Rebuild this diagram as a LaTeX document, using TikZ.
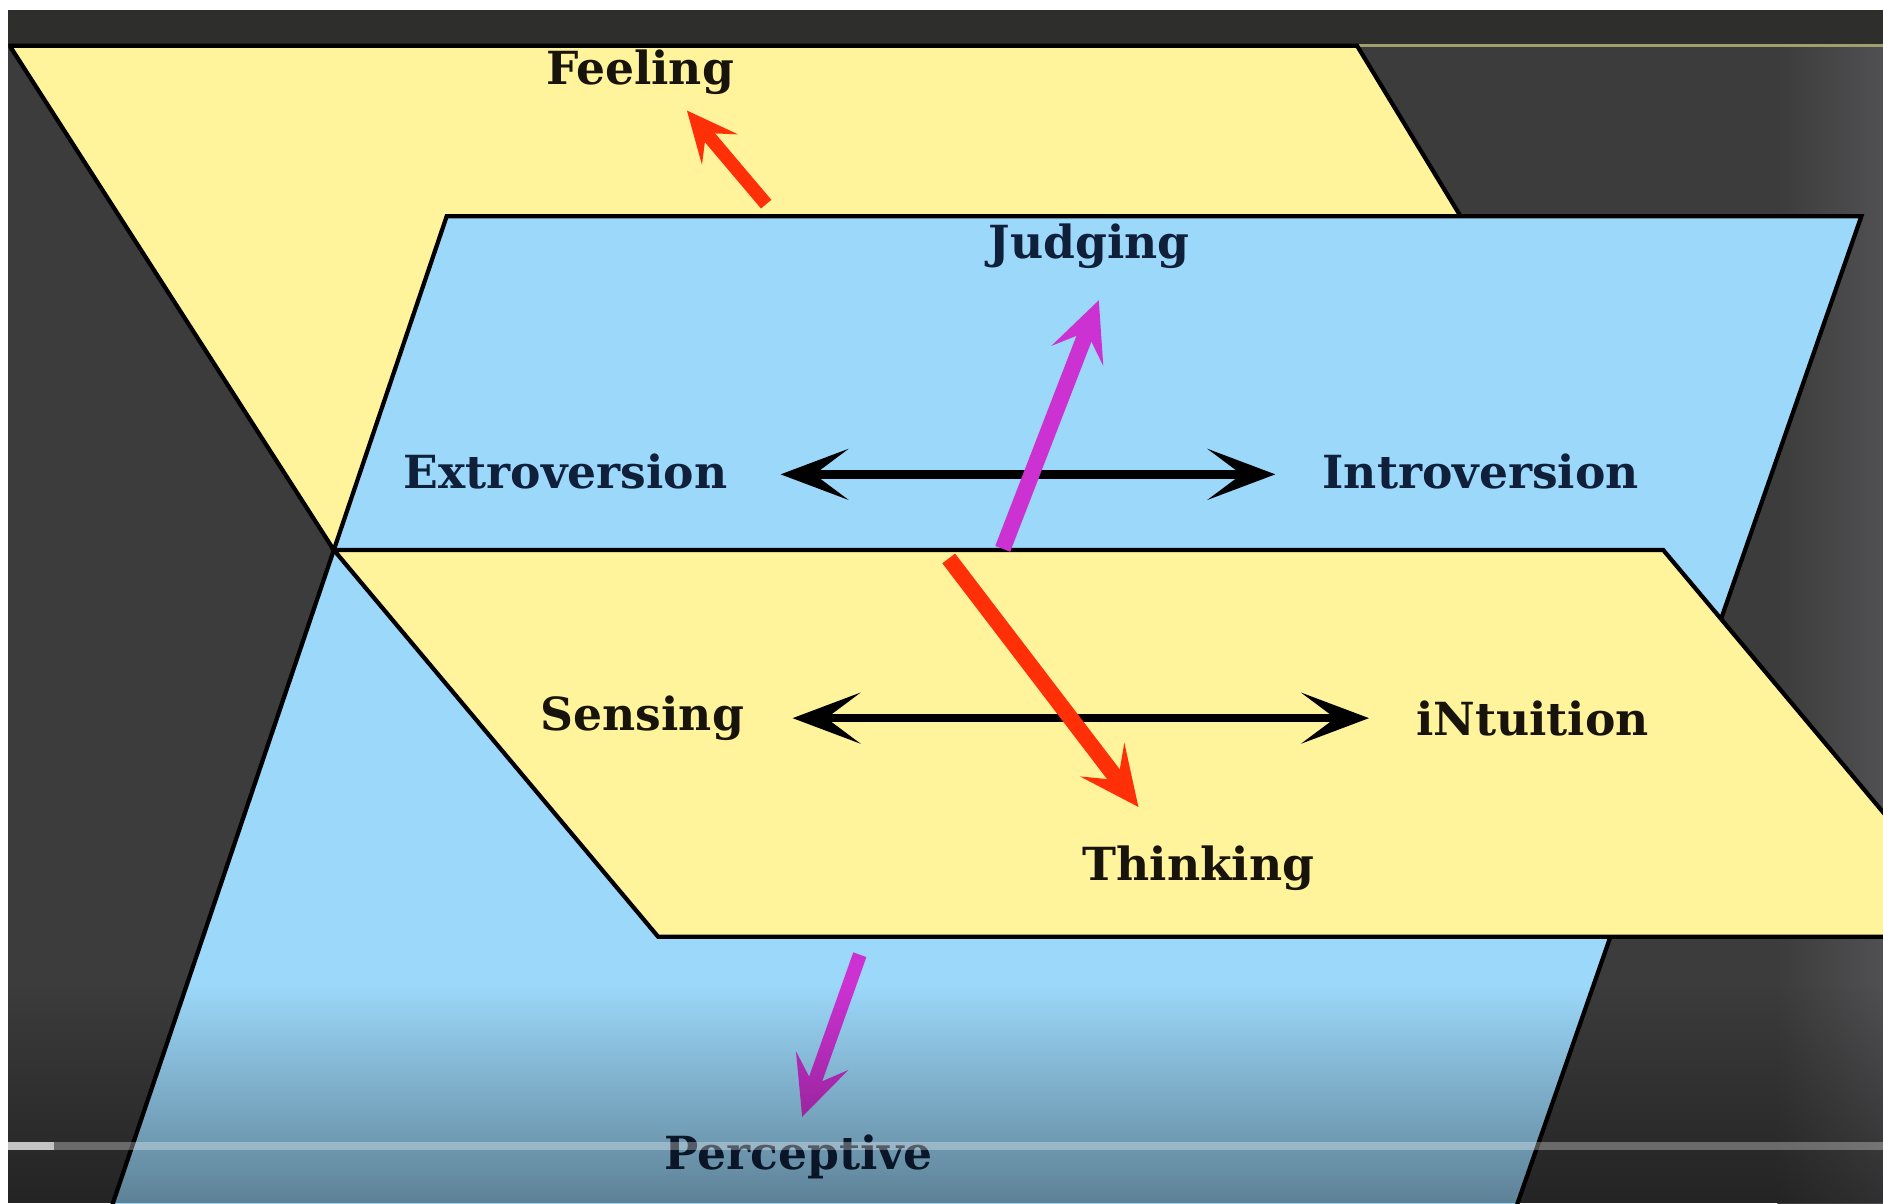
\documentclass[tikz,border=0pt]{standalone}
\usepackage{fontspec}
\setmainfont{DejaVu Serif}
\usetikzlibrary{arrows.meta, fadings}
\definecolor{scrdark}{RGB}{60,60,60}
\definecolor{scrtop}{RGB}{46,46,44}
\definecolor{scrlight}{RGB}{80,80,82}
\definecolor{topline}{RGB}{160,160,110}
\definecolor{planeyellow}{RGB}{255,244,156}
\definecolor{planeblue}{RGB}{156,216,250}
\definecolor{inkdark}{RGB}{24,20,12}
\definecolor{inknavy}{RGB}{16,32,58}
\definecolor{myred}{RGB}{255,48,8}
\definecolor{mymagenta}{RGB}{204,50,210}
\tikzset{
  plane/.style={draw=black, line width=1pt, line join=miter},
  typelabel/.style={font=\fontsize{10.8}{13}\selectfont\bfseries, inner sep=0pt},
  axis/.style={{Stealth[length=16pt, width=12pt, inset=8pt]}-{Stealth[length=16pt, width=12pt, inset=8pt]}, line width=2pt, color=black},
  redarrow/.style={-{Stealth[length=14pt, width=13pt, inset=6pt]}, line width=3.8pt, color=myred},
  pinkarrow/.style={-{Stealth[length=14pt, width=13pt, inset=6pt]}, line width=3.8pt, color=mymagenta}
}
\begin{document}
\begin{tikzpicture}[x=0.01cm, y=-0.01cm]
  \useasboundingbox (0,0) rectangle (1568,1002);
  % Screen
  \fill[white] (0,0) rectangle (1568,1002);
  \fill[scrdark] (7,8) rectangle (1568,1002);
  \fill[scrtop] (7,8) rectangle (1568,38);
  \shade[left color=scrdark, right color=scrlight] (1480,38) rectangle (1568,1002);
  \draw[topline, line width=0.8pt] (1130,38) -- (1568,38);

  \begin{scope}
    \clip (7,8) rectangle (1568,1002);
    % Back half of the yellow plane
    \filldraw[plane, fill=planeyellow] (8,38) -- (1130,38) -- (1385,458) -- (278,458) -- cycle;
    % Blue plane
    \filldraw[plane, fill=planeblue] (372,180) -- (1550,180) -- (1240,1070) -- (71,1070) -- cycle;
    % Front half of the yellow plane
    \filldraw[plane, fill=planeyellow] (278,458) -- (1385,458) -- (1655,780) -- (548,780) -- cycle;
  \end{scope}

  % Labels
  \node[typelabel, text=inkdark] (feeling) at (533,60) {Feeling};
  \node[typelabel, text=inknavy] (judging) at (907,205) {Judging};
  \node[typelabel, text=inknavy] (extro) at (471,393) {Extroversion};
  \node[typelabel, text=inknavy] (intro) at (1233,393) {Introversion};
  \node[typelabel, text=inkdark] (sensing) at (535,598) {Sensing};
  \node[typelabel, text=inkdark] (intuition) at (1276,598) {iNtuition};
  \node[typelabel, text=inkdark] (thinking) at (998,723) {Thinking};
  \node[typelabel, text=inknavy] (perceptive) at (665,963) {Perceptive};

  % Arrow ends
  \coordinate (eiL) at (650,395);
  \coordinate (eiR) at (1062,395);
  \coordinate (snL) at (660,598);
  \coordinate (snR) at (1140,598);
  \coordinate (feelFrom) at (638,170);
  \coordinate (feelTo) at (572,92);
  \coordinate (judgeFrom) at (835,457);
  \coordinate (judgeTo) at (915,250);
  \coordinate (thinkFrom) at (790,465);
  \coordinate (thinkTo) at (948,672);
  \coordinate (percFrom) at (716,795);
  \coordinate (percTo) at (668,930);

  % Arrows
  \draw[axis] (eiL) -- (eiR);
  \draw[axis] (snL) -- (snR);
  \draw[redarrow, -{Stealth[length=12pt, width=11pt, inset=5pt]}, line width=3.2pt] (feelFrom) -- (feelTo);
  \draw[pinkarrow] (judgeFrom) -- (judgeTo);
  \draw[redarrow] (thinkFrom) -- (thinkTo);
  \draw[pinkarrow, line width=3.3pt] (percFrom) -- (percTo);

  % Player overlay
  \fill[black, opacity=0.4, path fading=north] (7,820) rectangle (1568,1002);
  \fill[white, opacity=0.3] (7,951) rectangle (1568,958);
  \fill[white, opacity=0.6] (7,951) rectangle (45,958);
\end{tikzpicture}
\end{document}
